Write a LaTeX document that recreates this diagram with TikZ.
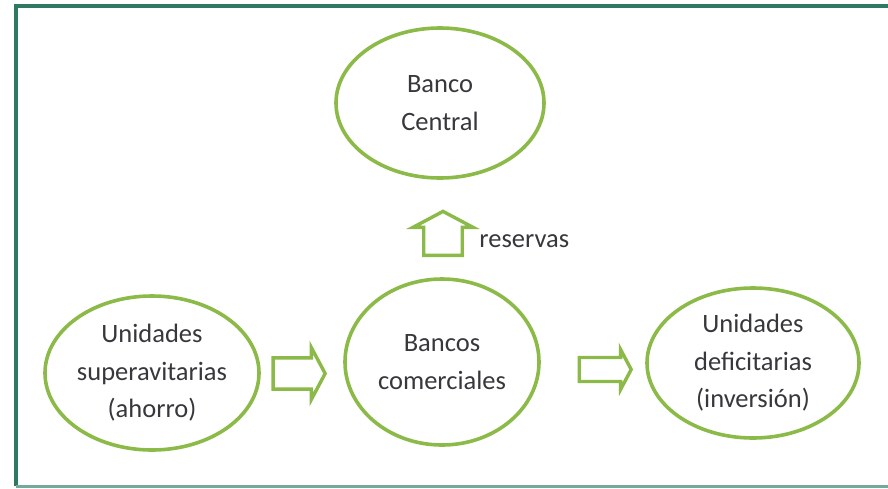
\documentclass[tikz,border=0pt]{standalone}
\usepackage{fontspec}
\setmainfont{Carlito}
\usepackage{tikz}
\usetikzlibrary{
  positioning,
  calc,
  shapes.geometric,
  shapes.arrows
}
\definecolor{leaf}{RGB}{140,186,72}
\definecolor{frameteal}{RGB}{46,120,100}
\definecolor{framelight}{RGB}{115,170,155}
\definecolor{inkgray}{RGB}{55,55,60}

\begin{document}
\begin{tikzpicture}[x=1pt,y=-1pt,
  bubble/.style={ellipse,draw=leaf,line width=3.6pt,inner sep=0pt,
    text=inkgray,align=center,font=\fontsize{26.5}{37.5}\selectfont},
  blockarrow/.style={single arrow,draw=leaf,line width=3.4pt,fill=white,
    inner sep=0pt,single arrow tip angle=124,single arrow head indent=0pt}]
  \useasboundingbox (0,0) rectangle (888,488);
  \draw[frameteal,line width=3.5pt] (888,6)--(16,6)--(16,486);
  \draw[framelight,line width=2.5pt] (16,486.5)--(888,486.5);

  \node[bubble,minimum width=208pt,minimum height=150pt] (central) at (440,103) {Banco\\Central};
  \node[bubble,minimum width=214pt,minimum height=154pt] (super) at (152,373) {Unidades\\superavitarias\\(ahorro)};
  \node[bubble,minimum width=194pt,minimum height=166pt] (bancos) at (442,362) {Bancos\\comerciales};
  \node[bubble,minimum width=212pt,minimum height=150pt] (defic) at (753,363) {Unidades\\deficitarias\\(inversión)};

  \node[blockarrow,minimum width=52pt,minimum height=52pt,inner ysep=9pt] (ahorro)
    at ($(super.east)!0.5!(bancos.west)+(-7,6)$) {};
  \node[blockarrow,minimum width=40pt,minimum height=52pt,inner ysep=9pt] (credito)
    at ($(bancos.east)!0.5!(defic.west)+(9,7)$) {};
  \node[blockarrow,shape border rotate=90,minimum width=60pt,minimum height=44pt,inner xsep=11pt] (subida)
    at ($(central.south)!0.5!(bancos.north)+(2,10)$) {};
  \node[right=12pt of subida,yshift=-3pt,text=inkgray,font=\fontsize{26.5}{30}\selectfont] (reservas) {reservas};
\end{tikzpicture}
\end{document}
